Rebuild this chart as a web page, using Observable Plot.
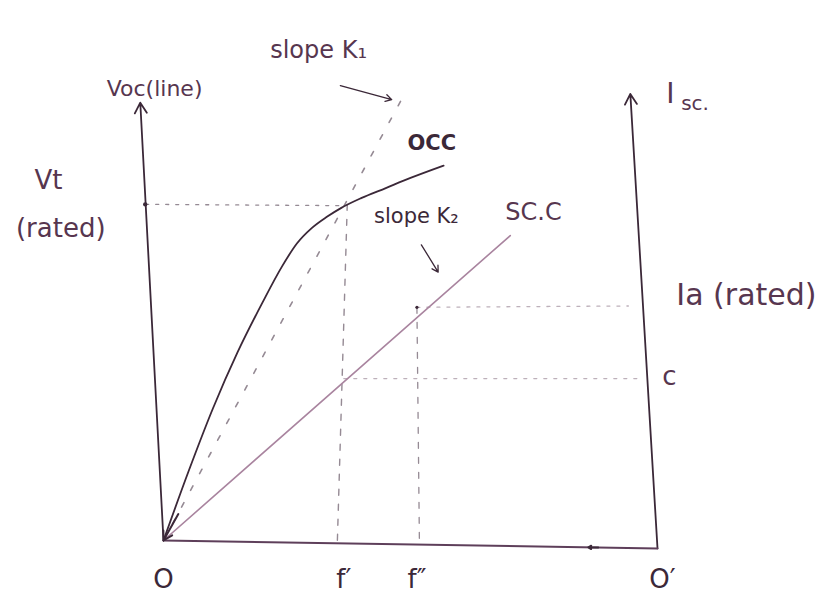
<!DOCTYPE html>
<html>
<head>
<meta charset="utf-8">
<script src="https://cdn.jsdelivr.net/npm/d3@7"></script>
<script src="https://cdn.jsdelivr.net/npm/@observablehq/plot@0.6"></script>
<style>
  body { margin: 0; background: #ffffff; }
  #chart svg { display: block; }
</style>
</head>
<body>
<div id="chart"></div>
<script>
// Open-circuit characteristic (field current vs line voltage), hand-read
const occX = [0, 5, 10, 15, 20, 24, 27, 30, 33, 36, 40, 45, 50, 56.7];
const occY = [0, 15.5, 30, 42.8, 54, 62.3, 67.5, 71, 73.5, 75.6, 77.8, 80.1, 82.4, 85.2];
// Short-circuit characteristic (straight line)
const sccX = [0, 70.2];
const sccY = [0, 69.3];
// Air-gap line (slope K1)
const k1X = [0, 48.6];
const k1Y = [0, 101.1];
// Field currents f', f'' and levels
const fPrime = 36.5;
const fDouble = 51.3;
const vtRated = 76.4;
const iaRated = 53.0;
const cLevel = 36.8;
// Axis end points (hand drawn, slightly tilted)
const leftAxisX = [0, -4.7];
const leftAxisY = [0, 99.5];
const rightAxisX = [100, 94.5];
const rightAxisY = [-1.8, 101.5];
const bottomAxisX = [0, 100];
const bottomAxisY = [0, -1.8];
// Text labels
const xTickLabels = ["O", "f\u2032", "f\u2033", "O\u2032"];

const ink = "#3b2838";
const pink = "#a9849f";
const dash = "#958a94";
const txt = "#57364f";
const font = "DejaVu Sans";

const pts = (xs, ys) => xs.map((x, i) => ({x, y: ys[i]}));
const occ = pts(occX, occY);
const scc = pts(sccX, sccY);
const k1 = pts(k1X, k1Y);

const xTicks = [
  {t: xTickLabels[0], x: 0},
  {t: xTickLabels[1], x: fPrime},
  {t: xTickLabels[2], x: fDouble},
  {t: xTickLabels[3], x: 101}
];

const chart = Plot.plot({
  width: 837,
  height: 600,
  marginLeft: 163,
  marginRight: 180,
  marginTop: 100,
  marginBottom: 60,
  x: {domain: [0, 100], axis: null},
  y: {domain: [0, 100], axis: null},
  style: {fontFamily: font, background: "#ffffff"},
  marks: [
    // dashed / dotted construction lines
    Plot.line(pts([fPrime + 0.7, fPrime - 1.3], [vtRated, 0]), {x: "x", y: "y", stroke: dash, strokeWidth: 1.4, strokeDasharray: "6,9"}),
    Plot.line(pts([fDouble, fDouble + 0.5], [iaRated, 0]), {x: "x", y: "y", stroke: dash, strokeWidth: 1.3, strokeDasharray: "6,9"}),
    Plot.line(pts([-3.6, fPrime], [vtRated, vtRated - 0.3]), {x: "x", y: "y", stroke: dash, strokeWidth: 1.3, strokeDasharray: "3,7"}),
    Plot.line(pts([fDouble, 94.1], [iaRated, iaRated + 0.3]), {x: "x", y: "y", stroke: "#bdb0ba", strokeWidth: 1.3, strokeDasharray: "3,7"}),
    Plot.line(pts([fPrime, 96.6], [cLevel, cLevel]), {x: "x", y: "y", stroke: "#bdb0ba", strokeWidth: 1.3, strokeDasharray: "3,7"}),
    Plot.line(k1, {x: "x", y: "y", stroke: dash, strokeWidth: 1.6, strokeDasharray: "5,14"}),
    // axes
    Plot.arrow([0], {x1: leftAxisX[0], y1: leftAxisY[0], x2: leftAxisX[1], y2: leftAxisY[1], stroke: ink, strokeWidth: 1.8, headLength: 10}),
    Plot.arrow([0], {x1: rightAxisX[0], y1: rightAxisY[0], x2: rightAxisX[1], y2: rightAxisY[1], stroke: ink, strokeWidth: 1.8, headLength: 10}),
    Plot.line(pts(bottomAxisX, bottomAxisY), {x: "x", y: "y", stroke: "#5e3f5a", strokeWidth: 2}),
    Plot.arrow([0], {x1: 88, y1: -1.6, x2: 86, y2: -1.55, stroke: ink, strokeWidth: 2, headLength: 9}),
    // characteristics
    Plot.line(scc, {x: "x", y: "y", stroke: pink, strokeWidth: 1.6}),
    Plot.line(occ, {x: "x", y: "y", stroke: ink, strokeWidth: 1.8, curve: "monotone-x"}),
    Plot.arrow([0], {x1: 3, y1: 6, x2: 0, y2: 0, stroke: ink, strokeWidth: 2, headLength: 10}),
    // small tick marks
    Plot.dot([0], {x: -3.7, y: vtRated, r: 2.2, fill: ink}),
    Plot.dot([0], {x: fDouble, y: iaRated, r: 1.6, fill: ink}),
    // pointer arrows
    Plot.arrow([0], {x1: 35.8, y1: 103.4, x2: 46.2, y2: 100.2, stroke: ink, strokeWidth: 1.3, headLength: 8}),
    Plot.arrow([0], {x1: 52.2, y1: 67.2, x2: 55.6, y2: 61.0, stroke: ink, strokeWidth: 1.3, headLength: 8}),
    // labels
    Plot.text(["Voc(line)"], {x: -1.8, y: 102.6, text: d => d, fontSize: 22, fill: txt}),
    Plot.text(["Vt"], {x: -23.3, y: 81.8, text: d => d, fontSize: 26, fill: txt}),
    Plot.text(["(rated)"], {x: -20.8, y: 70.8, text: d => d, fontSize: 26, fill: txt}),
    Plot.text(["slope K\u2081"], {x: 31.4, y: 111.3, text: d => d, fontSize: 24, fill: txt}),
    Plot.text(["OCC"], {x: 54.3, y: 90.3, text: d => d, fontSize: 21, fill: ink, fontWeight: "bold"}),
    Plot.text(["slope K\u2082"], {x: 51.2, y: 73.8, text: d => d, fontSize: 21, fill: ink}),
    Plot.text(["SC.C"], {x: 74.9, y: 74.6, text: d => d, fontSize: 24, fill: txt}),
    Plot.text(["I"], {x: 102.6, y: 101.4, text: d => d, fontSize: 28, fill: txt}),
    Plot.text(["sc."], {x: 107.6, y: 99.2, text: d => d, fontSize: 20, fill: txt}),
    Plot.text(["Ia (rated)"], {x: 118.0, y: 55.6, text: d => d, fontSize: 30, fill: txt}),
    Plot.text(["c"], {x: 102.4, y: 37.2, text: d => d, fontSize: 26, fill: txt}),
    Plot.text(xTicks, {x: "x", y: -8.8, text: "t", fontSize: 26, fill: ink})
  ]
});

document.getElementById("chart").appendChild(chart);
</script>
</body>
</html>
